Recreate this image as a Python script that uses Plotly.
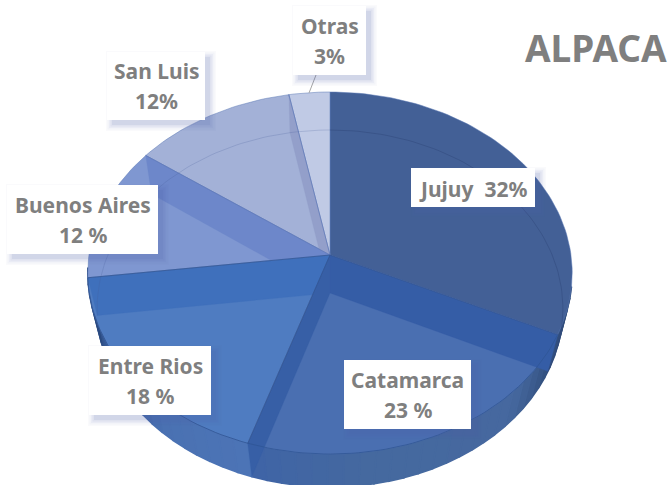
import math
import plotly.graph_objects as go

# ---- data ----
categories = ["Jujuy", "Catamarca", "Entre Rios", "Buenos Aires", "San Luis", "Otras"]
values = [32, 23, 18, 12, 12, 3]
percent_labels = ["32%", "23 %", "18 %", "12 %", "12%", "3%"]
chart_title = "ALPACA"

# ---- style ----
face_colors = ["#436096", "#4a6fb1", "#4f7cc1", "#7f97d1", "#a3b1d7", "#c0cae5"]
band_colors = ["#355da6", "#375fa6", "#3f70bc", "#6d87ca", "#939fca", None]
TEXT = "#7f7f7f"

# perspective views of the top and bottom discs: far, centre and near y, radius
TOP = dict(far=92, mid=255, near=454, r=241)
BOTTOM = dict(far=130, mid=293, near=487, r=232)
CX = 330


def project(view, deg):
    t = math.radians(deg)
    sx, cy = math.sin(t), math.cos(t)
    m, f, n = view["mid"], view["far"], view["near"]
    c = (2 * m - f - n) / (f - n)
    a = f * (1 + c) - m
    w = 1 + c * cy
    return CX + sx * view["r"] / w, (a * cy + m) / w


def arc(view, a0, a1, step=1.5):
    n = max(2, int(abs(a1 - a0) / step) + 1)
    return [project(view, a0 + (a1 - a0) * i / (n - 1)) for i in range(n)]


total = sum(values)
edges = [0.0]
for v in values:
    edges.append(edges[-1] + 360.0 * v / total)

fig = go.Figure()


def poly(points, fill, line=None, width=0.7, closed=True):
    pts = list(points)
    if closed:
        pts = pts + [pts[0]]
    fig.add_trace(go.Scatter(
        x=[p[0] for p in pts], y=[p[1] for p in pts], mode="lines",
        fill="toself" if closed else None,
        fillcolor=fill if closed else None,
        line=dict(color=line or fill or "rgba(0,0,0,0)", width=width),
        hoverinfo="skip", showlegend=False))


# outer wall, shaded in strips around the near side
wall_stops = [(100, "#2f4a78"), (118, "#33507f"), (135, "#46689f"), (170, "#45699f"),
              (198, "#3f64a6"), (199, "#4c74b6"), (222, "#4a71b2"), (240, "#3c619f"),
              (256, "#2a4a80"), (266, "#2a4a80")]


def wall_color(t):
    for (a, ca), (b, cb) in zip(wall_stops, wall_stops[1:]):
        if a <= t <= b:
            k = (t - a) / (b - a)
            rgb = [round(int(ca[i:i + 2], 16) * (1 - k) + int(cb[i:i + 2], 16) * k)
                   for i in (1, 3, 5)]
            return "rgb(%d,%d,%d)" % tuple(rgb)
    return wall_stops[-1][1]


t = 100.0
while t < 266:
    nxt = min(t + 3.5, 266)
    poly(arc(TOP, t, nxt) + arc(BOTTOM, nxt, t), wall_color((t + nxt) / 2), width=1.6)
    t = nxt

# top faces
for i in range(len(values)):
    poly([(CX, TOP["mid"])] + arc(TOP, edges[i], edges[i + 1]),
         face_colors[i], line="#5b78b5", width=0.5)

# inner walls, back to front
for i in [4, 3, 2, 1, 0]:
    a = edges[i + 1]
    poly([(CX, TOP["mid"]), project(TOP, a), project(BOTTOM, a), (CX, BOTTOM["mid"])],
         band_colors[i], line=band_colors[i], width=0.3)
    poly([(CX, TOP["mid"]), project(TOP, a)], None,
         line="#34558f" if i < 3 else "#5f78b8", width=0.7, closed=False)

# rim of the bottom disc seen through the faces
poly(arc(BOTTOM, 0, edges[1]), None, line="rgba(45,70,120,0.55)", width=0.8, closed=False)
poly(arc(BOTTOM, edges[3], 360), None, line="rgba(70,90,150,0.28)", width=0.8, closed=False)
# near rim of the top disc
poly(arc(TOP, edges[1], edges[3]), None, line="#2f5595", width=0.8, closed=False)

# label boxes: left, top, right, bottom
boxes = [(411, 168, 535, 207), (344, 360, 471, 429), (89, 346, 211, 415),
         (7, 185, 158, 254), (107, 52, 205, 120), (293, 6, 366, 75)]
shapes = [dict(type="line", xref="x", yref="y", x0=316, y0=75, x1=309, y1=93,
               line=dict(color="#a6a6a6", width=1))]
for (l, tp, r, b) in boxes:
    for grow, alpha in [(6, 0.03), (4.5, 0.04), (3, 0.05), (1.5, 0.07), (0, 0.09)]:
        shapes.append(dict(type="rect", xref="x", yref="y", x0=l + 5 - grow, x1=r + 5 + grow,
                           y0=tp + 5 - grow, y1=b + 5 + grow, line=dict(width=0),
                           fillcolor="rgba(80,100,170,%g)" % alpha))
for (l, tp, r, b) in boxes:
    shapes.append(dict(type="rect", xref="x", yref="y", x0=l, x1=r, y0=tp, y1=b,
                       line=dict(width=0), fillcolor="white"))

FONT = "Noto Sans"
anns = []
for i, (name, pct) in enumerate(zip(categories, percent_labels)):
    l, tp, r, b = boxes[i]
    mx = (l + r) / 2
    if i == 0:
        anns.append(dict(x=mx, y=(tp + b) / 2 + 1, text=name + "\u00a0\u00a0" + pct))
    else:
        anns.append(dict(x=mx, y=(tp + b) / 2 - 15, text=name))
        anns.append(dict(x=mx, y=(tp + b) / 2 + 15, text=pct))
for a in anns:
    a.update(xref="x", yref="y", showarrow=False, xanchor="center", yanchor="middle",
             font=dict(family=FONT, size=21, color=TEXT, weight="bold"))
anns.append(dict(x=596, y=47, xref="x", yref="y", text=chart_title, showarrow=False,
                 xanchor="center", yanchor="middle",
                 font=dict(family=FONT, size=37, color=TEXT, weight="bold")))

fig.update_layout(
    width=672, height=485, margin=dict(l=0, r=0, t=0, b=0),
    paper_bgcolor="white", plot_bgcolor="white", showlegend=False,
    xaxis=dict(range=[0, 672], visible=False, fixedrange=True),
    yaxis=dict(range=[485, 0], visible=False, fixedrange=True),
    shapes=shapes, annotations=anns)

fig.write_html("out.html", config=dict(displayModeBar=False),
               post_script="document.body.style.margin='0';document.documentElement.style.overflow='hidden';")
